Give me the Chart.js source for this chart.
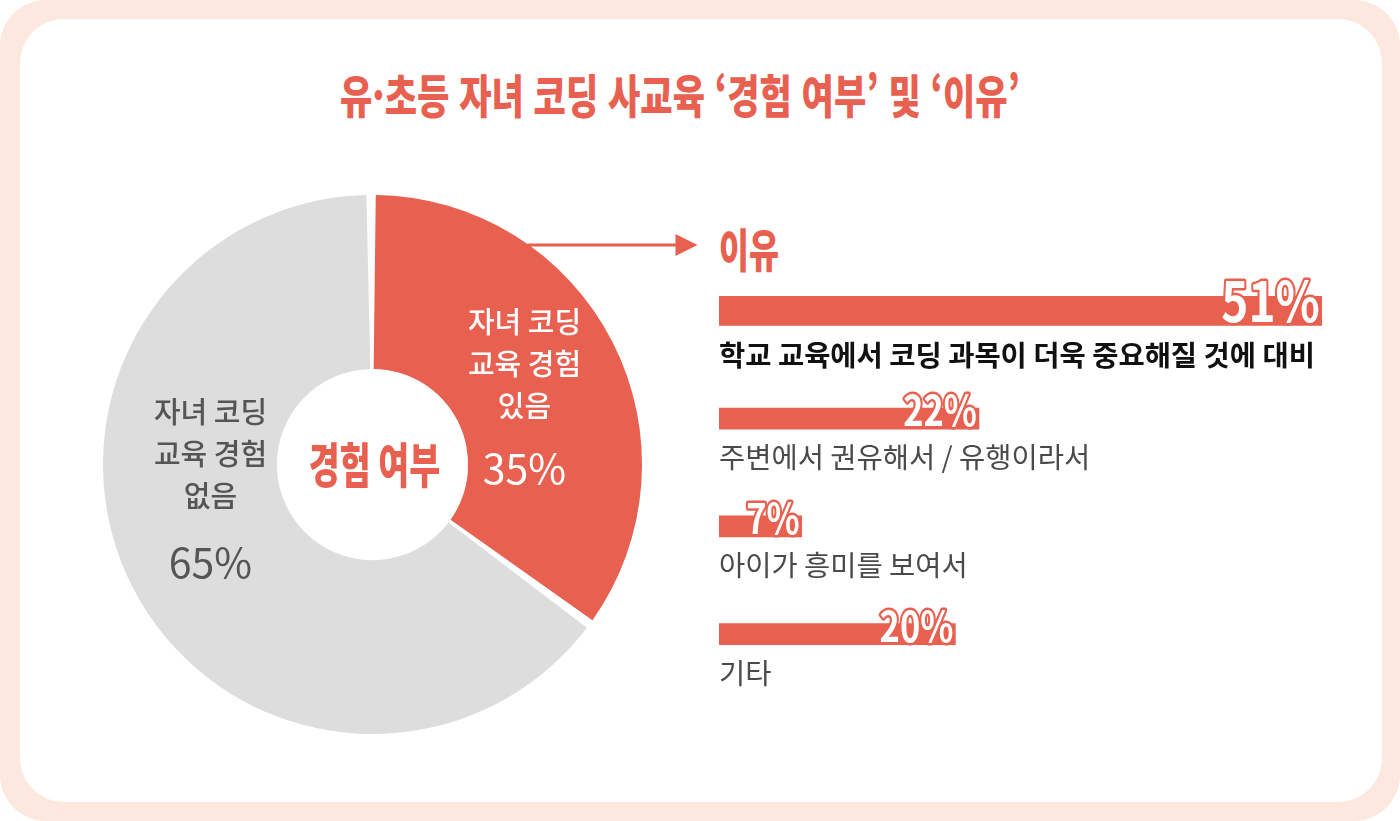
<!DOCTYPE html>
<html lang="ko">
<head>
<meta charset="utf-8">
<title>유·초등 자녀 코딩 사교육 경험 여부 및 이유</title>
<script src="https://cdn.jsdelivr.net/npm/chart.js@4.4.1/dist/chart.umd.min.js"></script>
<style>
  html, body { margin: 0; padding: 0; background: #fff; }
  body { width: 1400px; height: 821px; position: relative; overflow: hidden; font-family: "Noto Sans CJK KR", sans-serif; }
  #frame { position: absolute; left: 0; top: 0; width: 1400px; height: 821px; background: #fde8e0; border-radius: 46px; }
  #panel { position: absolute; left: 20px; top: 19px; width: 1362px; height: 783px; background: #fff; border-radius: 44px; }
  .head { position: absolute; white-space: nowrap; font-weight: 900; color: #e8604f; line-height: 1; transform-origin: 0 0; }
  #title { top: 70px; font-size: 46px; }
  #reasonHead { top: 224px; font-size: 46px; }
  #donutBox { position: absolute; left: 102.5px; top: 195px; width: 619px; height: 539px; }
  #barBox { position: absolute; left: 719px; top: 257px; width: 650px; height: 431px; }
</style>
</head>
<body>
<div id="frame"></div>
<div id="panel"></div>
<div id="title" class="head">유·초등 자녀 코딩 사교육 ‘경험 여부’ 및 ‘이유’</div>
<div id="reasonHead" class="head">이유</div>
<div id="donutBox"><canvas id="donut"></canvas></div>
<div id="barBox"><canvas id="bars"></canvas></div>

<script>
// data
const shareLabels = ['자녀 코딩 교육 경험 있음', '자녀 코딩 교육 경험 없음'];
const shareValues = [35, 65];
const shareLines = [['자녀 코딩', '교육 경험', '있음'], ['자녀 코딩', '교육 경험', '없음']];
const centerText = '경험 여부';

const reasons = [
  '학교 교육에서 코딩 과목이 더욱 중요해질 것에 대비',
  '주변에서 권유해서 / 유행이라서',
  '아이가 흥미를 보여서',
  '기타'
];
const reasonValues = [51, 22, 7, 20];

const RED = '#e8604f';
const GREY = '#dcdddc';
const FONT = '"Noto Sans CJK KR", "Noto Sans", sans-serif';

// squeeze the heading divs to the width they have in the picture
function fitHead(id, left, width) {
  const el = document.getElementById(id);
  const w = el.getBoundingClientRect().width;
  el.style.left = left + 'px';
  el.style.transform = 'scaleX(' + (width / w) + ')';
}
fitHead('title', 340, 680);
fitHead('reasonHead', 719, 60);

function squeezeText(ctx, text, x, y, font, sx, align, fill, stroke, lw) {
  ctx.save();
  ctx.font = font;
  ctx.translate(x, y);
  ctx.scale(sx, 1);
  ctx.textAlign = align;
  if (stroke) {
    ctx.lineJoin = 'round';
    ctx.lineWidth = lw;
    ctx.strokeStyle = stroke;
    ctx.strokeText(text, 0, 0);
  }
  ctx.fillStyle = fill;
  ctx.fillText(text, 0, 0);
  ctx.restore();
}

const donutText = {
  id: 'donutText',
  afterDraw(chart) {
    const ctx = chart.ctx;
    const arc = chart.getDatasetMeta(0).data[0];
    const cx = arc.x, cy = arc.y;

    // arrow to the reasons
    ctx.save();
    ctx.strokeStyle = RED;
    ctx.fillStyle = RED;
    ctx.lineWidth = 3;
    ctx.beginPath();
    ctx.moveTo(cx + 155, cy - 219.5);
    ctx.lineTo(cx + 305, cy - 219.5);
    ctx.stroke();
    ctx.beginPath();
    ctx.moveTo(cx + 325, cy - 219.5);
    ctx.lineTo(cx + 303, cy - 230.5);
    ctx.lineTo(cx + 303, cy - 208.5);
    ctx.closePath();
    ctx.fill();
    ctx.restore();

    ctx.save();
    ctx.textBaseline = 'middle';
    // centre title
    squeezeText(ctx, centerText, cx + 2, cy, '900 48px ' + FONT, 0.7, 'center', RED);

    // slice labels
    const spots = [
      {x: cx + 152, y: cy - 142.5, pctY: cy + 4, color: '#fff'},
      {x: cx - 162, y: cy - 52.5, pctY: cy + 98, color: '#555'}
    ];
    shareValues.forEach((v, i) => {
      const s = spots[i];
      ctx.fillStyle = s.color;
      ctx.textAlign = 'center';
      ctx.font = '500 29px ' + FONT;
      shareLines[i].forEach((line, k) => ctx.fillText(line, s.x, s.y + k * 42));
      ctx.font = '400 41px ' + FONT;
      ctx.fillText(v + '%', s.x, s.pctY);
    });
    ctx.restore();
  }
};

new Chart(document.getElementById('donut'), {
  type: 'doughnut',
  data: {
    labels: shareLabels,
    datasets: [{
      data: shareValues,
      backgroundColor: [RED, GREY],
      borderWidth: 0,
      spacing: 4
    }]
  },
  options: {
    responsive: true,
    maintainAspectRatio: false,
    animation: false,
    cutout: '35%',
    layout: { padding: { right: 80 } },
    plugins: { legend: { display: false }, tooltip: { enabled: false } }
  },
  plugins: [donutText]
});

const barText = {
  id: 'barText',
  afterDatasetsDraw(chart) {
    const ctx = chart.ctx;
    const left = chart.chartArea.left;
    ctx.save();
    reasonValues.forEach((v, i) => {
      const bar = chart.getDatasetMeta(i === 0 ? 0 : 1).data[i];
      const bottom = bar.y + bar.height / 2;
      ctx.textBaseline = 'alphabetic';
      squeezeText(ctx, v + '%', bar.x - 2, bottom - 3,
        '700 ' + (i === 0 ? 56 : 42) + 'px ' + FONT, 0.82, 'right', '#fff', RED, 5);
      ctx.textBaseline = 'middle';
      ctx.textAlign = 'left';
      ctx.fillStyle = i === 0 ? '#111' : '#4a4a4a';
      ctx.font = (i === 0 ? '700 ' : '400 ') + '28.5px ' + FONT;
      ctx.fillText(reasons[i], left, bar.y + (i === 0 ? 44 : 39));
    });
    ctx.restore();
  }
};

new Chart(document.getElementById('bars'), {
  type: 'bar',
  data: {
    labels: reasons,
    datasets: [
      {
        data: reasonValues.map((v, i) => (i === 0 ? v : null)),
        backgroundColor: RED,
        barThickness: 29,
        grouped: false
      },
      {
        data: reasonValues.map((v, i) => (i === 0 ? null : v)),
        backgroundColor: RED,
        barThickness: 21,
        grouped: false
      }
    ]
  },
  options: {
    indexAxis: 'y',
    responsive: true,
    maintainAspectRatio: false,
    animation: false,
    layout: { padding: 0 },
    scales: {
      x: { display: false, min: 0, max: 55 },
      y: { display: false, offset: true }
    },
    plugins: { legend: { display: false }, tooltip: { enabled: false } }
  },
  plugins: [barText]
});
</script>
</body>
</html>
